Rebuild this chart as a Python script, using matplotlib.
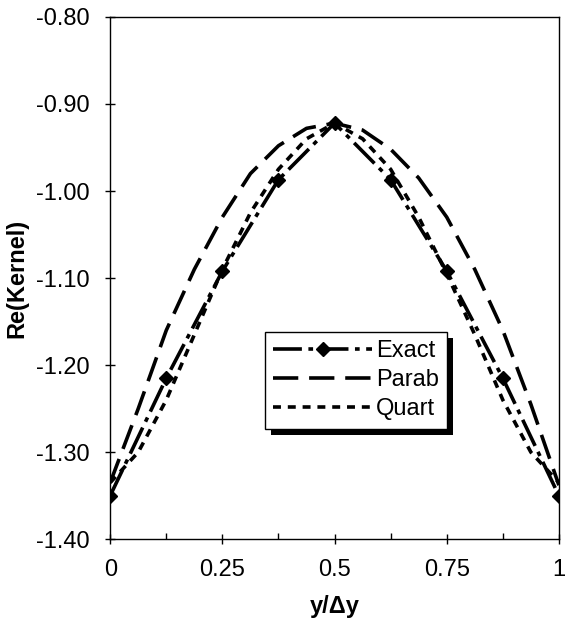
import numpy as np
import matplotlib.pyplot as plt
from matplotlib.patches import Rectangle
from matplotlib.ticker import MultipleLocator, FixedFormatter, FixedLocator

plt.rcParams['font.family'] = ['Liberation Sans', 'DejaVu Sans']

# data
x_exact = [0, 0.125, 0.25, 0.375, 0.5, 0.625, 0.75, 0.875, 1]
y_exact = [-1.350, -1.215, -1.092, -0.987, -0.922, -0.987, -1.092, -1.215, -1.350]

x_fine = [0, 0.0625, 0.125, 0.1875, 0.25, 0.3125, 0.375, 0.4375, 0.5,
          0.5625, 0.625, 0.6875, 0.75, 0.8125, 0.875, 0.9375, 1]
y_parab = [-1.335, -1.250, -1.160, -1.090, -1.030, -0.980, -0.948, -0.928, -0.922,
           -0.930, -0.952, -0.985, -1.030, -1.090, -1.160, -1.245, -1.338]
y_quart = [-1.335, -1.300, -1.240, -1.165, -1.090, -1.025, -0.975, -0.940, -0.922,
           -0.940, -0.975, -1.030, -1.095, -1.165, -1.240, -1.300, -1.335]

xticks = [0, 0.25, 0.5, 0.75, 1]
xlabels = ['0', '0.25', '0.5', '0.75', '1']
yticks = [-1.40, -1.30, -1.20, -1.10, -1.00, -0.90, -0.80]

fig = plt.figure(figsize=(5.68, 6.27), dpi=100)
ax = fig.add_axes([0.194, 0.140, 0.790, 0.833])

ax.plot(x_exact, y_exact, color='black', lw=2.6, dashes=(8, 1.8, 1.3, 1.8),
        marker='D', ms=7.5, mec='black', mfc='black', label='Exact')
ax.plot(x_fine, y_parab, color='black', lw=2.6, dashes=(7, 3), label='Parab')
ax.plot(x_fine, y_quart, color='black', lw=2.6, dashes=(2.2, 1.9), label='Quart')

ax.set_xlim(0, 1)
ax.set_ylim(-1.40, -0.80)
ax.xaxis.set_major_locator(FixedLocator(xticks))
ax.xaxis.set_major_formatter(FixedFormatter(xlabels))
ax.xaxis.set_minor_locator(MultipleLocator(0.125))
ax.set_yticks(yticks)
ax.set_yticklabels(['%.2f' % v for v in yticks])

ax.tick_params(axis='both', which='major', direction='inout', length=7, width=1,
               labelsize=17, pad=11, top=False, right=False)
ax.tick_params(axis='x', which='minor', direction='in', length=4, width=1,
               top=False)
for s in ax.spines.values():
    s.set_linewidth(1.0)

ax.set_xlabel('y/Δy', fontsize=17, fontweight='bold', labelpad=10)
ax.set_ylabel('Re(Kernel)', fontsize=17, fontweight='bold', labelpad=6)

leg = ax.legend(loc='upper left', bbox_to_anchor=(0.345, 0.397), fontsize=17,
                frameon=True, fancybox=False, edgecolor='black', framealpha=1,
                handlelength=4.2, handletextpad=0.15, labelspacing=0.3,
                borderpad=0.35, borderaxespad=0)
leg.get_frame().set_linewidth(1.0)
leg.set_zorder(6)

# drop shadow behind the legend box
fig.canvas.draw()
bb = leg.get_window_extent().transformed(fig.transFigure.inverted())
dx, dy = 6 / 568, 6 / 627
ax.add_patch(Rectangle((bb.x0 + dx, bb.y0 - dy), bb.width, bb.height,
                       transform=fig.transFigure, facecolor='black',
                       edgecolor='none', zorder=5, clip_on=False))

fig.savefig('out.png', dpi=100)
